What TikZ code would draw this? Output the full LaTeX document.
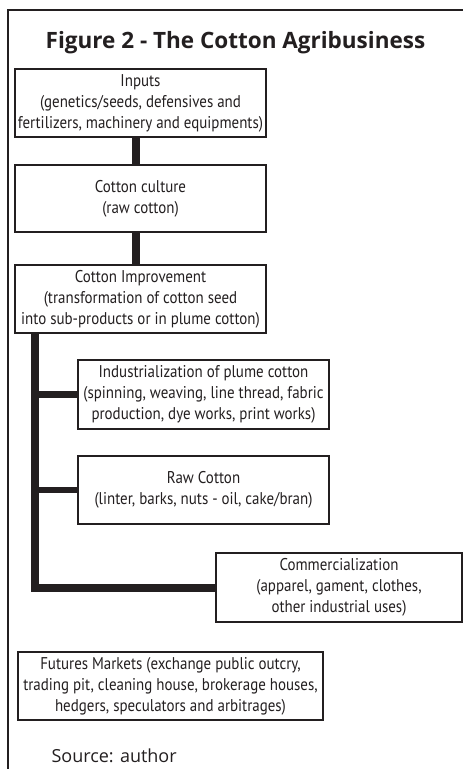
\documentclass[tikz,border=0pt]{standalone}
\usepackage{fontspec}
\setmainfont{PT Sans}[FakeStretch=0.88]
\newfontfamily\titlefont{Open Sans}
\newfontfamily\plainfont{Open Sans}
\definecolor{ink}{HTML}{231F20}
\begin{document}
\begin{tikzpicture}[x=1pt,y=-1pt,
  box/.style={draw=ink,line width=1.3pt,minimum width=251pt,minimum height=68pt,
    inner sep=0pt,align=center,text=ink,font=\fontsize{17}{21}\selectfont},
  thickline/.style={draw=ink,line width=8pt},
  branch/.style={draw=ink,line width=6.5pt}]
\useasboundingbox (0,0) rectangle (463,769);
\clip (0,0) rectangle (463,769);
\fill[white] (0,0) rectangle (463,769);
\draw[ink,line width=1.5pt] (8,790) -- (8,10) -- (480,10);
\node[anchor=base,text=ink,font=\titlefont\bfseries\fontsize{22.5}{26}\selectfont] (title) at (235.5,48) {Figure 2 - The Cotton Agribusiness};
\node[box] (inputs) at (140.5,103) {Inputs\\(genetics/seeds, defensives and\\fertilizers, machinery and equipments)};
\node[box,minimum height=67pt] (culture) at (140.5,198.5) {Cotton culture\\(raw cotton)};
\node[box] (improve) at (140.5,299) {Cotton Improvement\\(transformation of cotton seed\\into sub-products or in plume cotton)};
\node[box,minimum height=69pt] (indus) at (203.5,394.5) {Industrialization of plume cotton\\(spinning, weaving, line thread, fabric\\production, dye works, print works)};
\node[box] (raw) at (203.5,490) {Raw Cotton\\(linter, barks, nuts - oil, cake/bran)};
\node[box,minimum width=246pt,minimum height=69pt] (comm) at (339,587.5) {Commercialization\\(apparel, gament, clothes,\\other industrial uses)};
\node[box,minimum width=305pt] (futures) at (170.5,686) {Futures Markets (exchange public outcry,\\trading pit, cleaning house, brokerage houses,\\hedgers, speculators and arbitrages)};
\node[anchor=base west,text=ink,font=\plainfont\fontsize{18}{20}\selectfont] (source) at (48,762) {Source: author};
\draw[thickline] ([xshift=-4.5pt]inputs.south) -- ([xshift=-4.5pt]culture.north);
\draw[thickline] ([xshift=-4.5pt]culture.south) -- ([xshift=-4.5pt]improve.north);
\coordinate (trunk) at ([xshift=21pt]improve.south west);
\draw[thickline] (trunk) |- (comm.west);
\draw[branch] (indus.west -| trunk) -- (indus.west);
\draw[branch] (raw.west -| trunk) -- (raw.west);
\end{tikzpicture}
\end{document}
